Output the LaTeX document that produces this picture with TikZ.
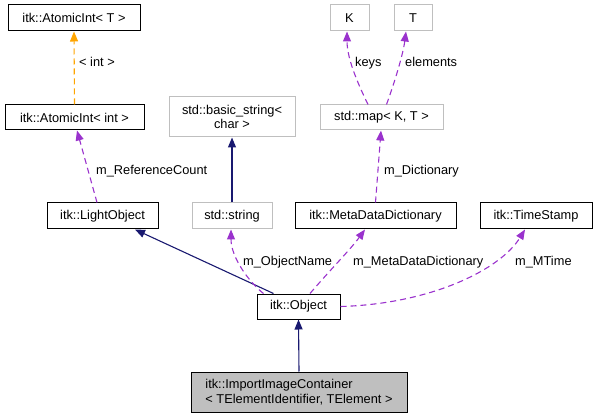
\documentclass[tikz,border=0pt]{standalone}
\usepackage{fontspec}
\newfontfamily\dg{Liberation Sans}
\usetikzlibrary{arrows.meta}
\definecolor{navy}{HTML}{191970}
\definecolor{orch}{HTML}{9A32CD}
\definecolor{orng}{HTML}{FFA500}
\definecolor{lgray}{HTML}{BFBFBF}
\begin{document}
\begin{tikzpicture}[x=1pt,y=-1pt,
  font=\dg\fontsize{12.8}{14.5}\selectfont,
  cls/.style={draw=black,line width=1pt,inner sep=0pt,fill=white},
  ext/.style={draw=lgray,line width=1pt,inner sep=0pt,fill=white},
  tip/.style={-{Triangle[length=10pt,width=8pt]}},
  inh/.style={tip,draw=navy,line width=1.1pt},
  use/.style={tip,draw=orch,line width=1.1pt,dash pattern=on 6pt off 4pt},
  tpl/.style={tip,draw=orng,line width=1.1pt,dash pattern=on 6pt off 4pt},
  lab/.style={anchor=base west,inner sep=0pt}]
\useasboundingbox (0,0) rectangle (596,419);
\node[cls,minimum width=132pt,minimum height=26pt] (atT) at (74,18) {itk::AtomicInt< T >};
\node[cls,minimum width=139pt,minimum height=25pt] (atI) at (74.5,117.5) {itk::AtomicInt< int >};
\node[ext,minimum width=126pt,minimum height=40pt,align=center] (bstr) at (232,117) {std::basic\_string<\\char >};
\node[cls,minimum width=111pt,minimum height=26pt] (lo) at (102.5,216) {itk::LightObject};
\node[ext,minimum width=80pt,minimum height=26pt] (str) at (232,216) {std::string};
\node[cls,minimum width=161pt,minimum height=26pt] (mdd) at (375.5,216) {itk::MetaDataDictionary};
\node[cls,minimum width=112pt,minimum height=26pt] (ts) at (536,216) {itk::TimeStamp};
\node[ext,minimum width=39pt,minimum height=26pt] (K) at (349.5,18) {K};
\node[ext,minimum width=38pt,minimum height=26pt] (T) at (413,18) {T};
\node[ext,minimum width=123pt,minimum height=25pt] (map) at (381.5,117.5) {std::map< K, T >};
\node[cls,minimum width=83pt,minimum height=25pt] (obj) at (298.5,306.5) {itk::Object};
\node[cls,fill=lgray,minimum width=216pt,minimum height=40pt,align=left] (iic) at (299,392) {itk::ImportImageContainer\\< TElementIdentifier, TElement >};

\draw[tpl] (atI.north) -- (atT.south);
\node[lab] (l1) at (79,66.5) {< int >};
\draw[use] ([xshift=-5.5pt]lo.north) -- ([xshift=2.5pt]atI.south);
\node[lab] (l2) at (96,174.5) {m\_ReferenceCount};
\draw[inh] (str.north) -- (bstr.south);
\draw[inh] ([xshift=-25pt]obj.north) -- ([xshift=32.5pt]lo.south);
\draw[use] ([xshift=-35pt]obj.north) .. controls (250,283) and (231,258) .. ([xshift=-1pt]str.south);
\node[lab] (l3) at (243,265.5) {m\_ObjectName};
\draw[use] ([xshift=11.5pt]obj.north) .. controls (330,270) and (350,250) .. ([xshift=-10.5pt]mdd.south);
\node[lab] (l4) at (353,265.5) {m\_MetaDataDictionary};
\draw[use] (obj.east) .. controls (430,304) and (500,270) .. ([xshift=-11pt]ts.south);
\node[lab] (l5) at (515,265.5) {m\_MTime};
\draw[use] ([xshift=-13.5pt]map.north) .. controls (360,88) and (347,60) .. ([xshift=-2.5pt]K.south);
\node[lab] (l6) at (355,66.5) {keys};
\draw[use] ([xshift=5pt]map.north) .. controls (394,84) and (403,55) .. ([xshift=-7pt]T.south);
\node[lab] (l7) at (405,66.5) {elements};
\draw[use] (mdd.north) -- ([xshift=-0.5pt]map.south);
\node[lab] (l8) at (384,174.5) {m\_Dictionary};
\draw[inh] (iic.north) -- (obj.south);
\end{tikzpicture}
\end{document}
